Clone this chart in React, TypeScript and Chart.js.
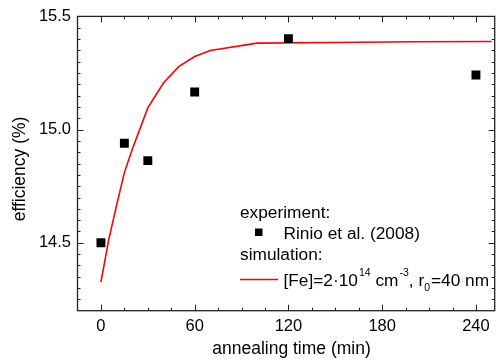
import React, { useEffect, useRef } from "react";
import { Chart, registerables } from "chart.js";

Chart.register(...registerables);

// ---- data ----
const expTime = [0, 15, 30, 60, 120, 240];
const expEff = [14.5, 14.94, 14.863, 15.166, 15.402, 15.241];

const simTime = [0, 5, 10, 15, 20, 30, 40, 50, 60, 70, 100, 150, 200, 250];
const simEff = [14.326, 14.514, 14.665, 14.81, 14.912, 15.096, 15.206, 15.279, 15.323, 15.349, 15.382, 15.385, 15.388, 15.389];

const xTicks = [0, 60, 120, 180, 240];
const xTickLabels = ["0", "60", "120", "180", "240"];
const yTicks = [14.5, 15.0, 15.5];
const yTickLabels = ["14.5", "15.0", "15.5"];

const xTitle = "annealing time (min)";
const yTitle = "efficiency (%)";
const legendExpHeader = "experiment:";
const legendExpLabel = "Rinio et al. (2008)";
const legendSimHeader = "simulation:";
const legendSimParts = [
  { t: "[Fe]=2·10", k: "n" },
  { t: "14", k: "sup" },
  { t: " cm", k: "n" },
  { t: "-3", k: "sup" },
  { t: ", r", k: "n" },
  { t: "0", k: "sub" },
  { t: "=40 nm", k: "n" },
];

const FONT = '"Liberation Sans", Arial, Helvetica, sans-serif';

const framePlugin = {
  id: "framePlugin",
  afterDatasetsDraw(chart: any) {
    const { ctx, chartArea } = chart;
    const xs = chart.scales.x;
    const ys = chart.scales.y;
    const { left, right, top, bottom } = chartArea;
    ctx.save();
    // frame
    ctx.strokeStyle = "#222";
    ctx.lineWidth = 1.3;
    ctx.strokeRect(left, top, right - left, bottom - top);
    // ticks
    ctx.lineWidth = 1;
    ctx.beginPath();
    for (let v = 0; v <= xs.max + 1e-9; v += 15) {
      const px = Math.round(xs.getPixelForValue(v)) + 0.5;
      const major = Math.abs(v % 60) < 1e-9;
      const len = major ? 6 : 3;
      ctx.moveTo(px, bottom);
      ctx.lineTo(px, bottom - len);
      ctx.moveTo(px, top);
      ctx.lineTo(px, top + len);
    }
    for (let i = 0; ; i++) {
      const v = 14.25 + i * 0.05;
      if (v > ys.max + 1e-9) break;
      const py = Math.round(ys.getPixelForValue(v)) + 0.5;
      const major = Math.abs(Math.round(v * 2) - v * 2) < 1e-6;
      const len = major ? 6 : 3;
      ctx.moveTo(left, py);
      ctx.lineTo(left + len, py);
      ctx.moveTo(right, py);
      ctx.lineTo(right - len, py);
    }
    ctx.stroke();

    // axis titles
    ctx.fillStyle = "#000";
    ctx.font = `17.5px ${FONT}`;
    ctx.textAlign = "center";
    ctx.textBaseline = "alphabetic";
    ctx.fillText(xTitle, 291.5, 353.5);
    ctx.save();
    ctx.translate(25, 169);
    ctx.rotate(-Math.PI / 2);
    ctx.fillText(yTitle, 0, 0);
    ctx.restore();

    // legend
    ctx.textAlign = "left";
    ctx.font = `17.3px ${FONT}`;
    ctx.fillText(legendExpHeader, 240, 217.5);
    ctx.fillRect(255, 228.5, 7.5, 7.5);
    ctx.fillText(legendExpLabel, 283.5, 238.5);
    ctx.fillText(legendSimHeader, 240, 260);
    ctx.strokeStyle = "#ff0000";
    ctx.lineWidth = 1.5;
    ctx.beginPath();
    ctx.moveTo(240, 279.5);
    ctx.lineTo(278, 279.5);
    ctx.stroke();
    let x = 283.5;
    const base = 285.5;
    for (const p of legendSimParts) {
      if (p.k === "n") {
        ctx.font = `17.3px ${FONT}`;
        ctx.fillText(p.t, x, base);
      } else if (p.k === "sup") {
        ctx.font = `10.5px ${FONT}`;
        ctx.fillText(p.t, x + 1, base - 9.5);
      } else {
        ctx.font = `10.5px ${FONT}`;
        ctx.fillText(p.t, x, base + 5);
      }
      x += ctx.measureText(p.t).width + (p.k === "n" ? 0 : 1);
    }
    ctx.restore();
  },
};

export default function App() {
  const ref = useRef<HTMLCanvasElement | null>(null);
  useEffect(() => {
    if (!ref.current) return;
    const chart = new Chart(ref.current, {
      type: "scatter",
      data: {
        datasets: [
          {
            label: "sim",
            data: simTime.map((t, i) => ({ x: t, y: simEff[i] })),
            showLine: true,
            borderColor: "#ff0000",
            borderWidth: 1.6,
            pointRadius: 0,
            tension: 0,
            order: 2,
          } as any,
          {
            label: "exp",
            data: expTime.map((t, i) => ({ x: t, y: expEff[i] })),
            pointStyle: "rect",
            pointRadius: 6.3,
            backgroundColor: "#000",
            borderWidth: 0,
            order: 1,
          } as any,
        ],
      },
      options: {
        animation: false,
        responsive: false,
        devicePixelRatio: 1,
        layout: { padding: { left: 0, right: 1.5, top: 16, bottom: 0 } },
        plugins: { legend: { display: false }, tooltip: { enabled: false } },
        scales: {
          x: {
            type: "linear",
            min: -15,
            max: 252,
            grid: { display: false, drawTicks: false },
            border: { display: false },
            ticks: {
              color: "#000",
              font: { family: FONT, size: 16.5 },
              padding: 6,
              maxRotation: 0,
              autoSkip: false,
              callback: (v: any) => {
                const i = xTicks.indexOf(Number(v));
                return i >= 0 ? xTickLabels[i] : "";
              },
            },
            afterBuildTicks: (s: any) => {
              s.ticks = xTicks.map((v) => ({ value: v }));
            },
            afterFit: (s: any) => {
              s.height = 49.3;
            },
          },
          y: {
            type: "linear",
            min: 14.2,
            max: 15.5,
            grid: { display: false, drawTicks: false },
            border: { display: false },
            ticks: {
              color: "#000",
              font: { family: FONT, size: 16.5 },
              padding: 6.5,
              autoSkip: false,
              callback: (v: any) => {
                const i = yTicks.findIndex((t) => Math.abs(t - Number(v)) < 1e-6);
                return i >= 0 ? yTickLabels[i] : "";
              },
            },
            afterBuildTicks: (s: any) => {
              s.ticks = yTicks.map((v) => ({ value: v }));
            },
            afterFit: (s: any) => {
              s.width = 77.5;
            },
          },
        },
      },
      plugins: [framePlugin],
    });
    return () => chart.destroy();
  }, []);
  return (
    <div style={{ position: "absolute", left: 0, top: 0, width: 501, height: 360, background: "#fff" }}>
      <canvas ref={ref} width={501} height={360} style={{ display: "block" }} />
    </div>
  );
}
